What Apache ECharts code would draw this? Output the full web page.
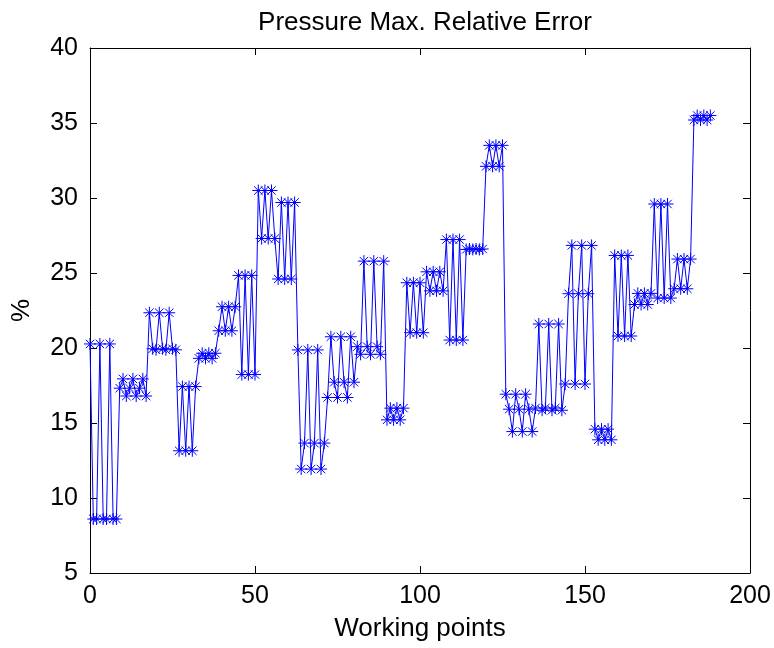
<!DOCTYPE html>
<html>
<head>
<meta charset="utf-8">
<script src="https://cdn.jsdelivr.net/npm/echarts@6/dist/echarts.min.js"></script>
<style>
html,body{margin:0;padding:0;background:#fff;}
#chart{width:774px;height:648px;}
</style>
</head>
<body>
<div id="chart"></div>
<script>
// Relative error (%) for each working point (index 0..188)
const relError = [
  20.27, 8.6, 8.6, 20.27, 8.6, 8.6, 20.27, 8.6, 8.6,
  17.32, 17.94, 16.8, 17.32, 17.94, 16.8, 17.32, 17.94, 16.8,
  22.35, 19.95, 19.88, 22.35, 19.95, 19.88, 22.35, 19.95, 19.88,
  13.15, 17.43, 13.15, 17.43, 13.15, 17.43,
  19.31, 19.65, 19.31, 19.65, 19.31, 19.65,
  21.15, 22.75, 21.15, 22.75, 21.15, 22.75,
  24.84, 18.23, 24.84, 18.23, 24.84, 18.23,
  30.5, 27.3, 30.5, 27.3, 30.5, 27.3,
  24.6, 29.7, 24.6, 29.7, 24.6, 29.7,
  19.87, 11.93, 13.66, 19.87, 11.93, 13.66, 19.87, 11.93, 13.66,
  16.7, 20.75, 17.72, 16.7, 20.75, 17.72, 16.7, 20.75, 17.72,
  20.09, 19.58, 25.79, 20.09, 19.58, 25.79, 20.09, 19.58, 25.79,
  15.21, 15.99, 15.21, 15.99, 15.21, 15.99,
  24.35, 21.02, 24.35, 21.02, 24.35, 21.02,
  25.08, 23.81, 25.08, 23.81, 25.08, 23.81,
  27.23, 20.53, 27.23, 20.53, 27.23, 20.53,
  26.57, 26.6, 26.57, 26.6, 26.57, 26.6,
  32.11, 33.51, 32.11, 33.51, 32.11, 33.51,
  16.92, 15.92, 14.43, 16.92, 15.92, 14.43, 16.92, 15.92, 14.43,
  16.0, 21.6, 15.85, 16.0, 21.6, 15.85, 16.0, 21.6, 15.85,
  17.6, 23.62, 26.84, 17.6, 23.62, 26.84, 17.6, 23.62, 26.84,
  14.59, 13.88, 14.59, 13.88, 14.59, 13.88,
  26.17, 20.8, 26.17, 20.8, 26.17, 20.8,
  22.9, 23.64, 22.9, 23.64, 22.9, 23.64,
  29.6, 23.33, 29.6, 23.33, 29.6, 23.33,
  23.95, 25.93, 23.95, 25.93, 23.95, 25.93,
  35.2, 35.5, 35.2, 35.5, 35.2, 35.5
];
const xRange = [0, 200];
const xStep = 50;
const yRange = [5, 40];
const yStep = 5;

const points = relError.map((v, i) => [i, v]);
const FONT = 'Liberation Sans, Arial, sans-serif';
const FS_TEXT = 26;
const FS_TICK = 25;

const tickCommon = {show: true, inside: true, length: 7, lineStyle: {color: '#000', width: 1}};
const lineCommon = {show: true, onZero: false, lineStyle: {color: '#000', width: 1}};

const chart = echarts.init(document.getElementById('chart'), null, {renderer: 'canvas'});
chart.setOption({
  animation: false,
  backgroundColor: '#fff',
  title: {
    text: 'Pressure Max. Relative Error',
    left: 420, top: 5, textAlign: 'center',
    textStyle: {fontFamily: FONT, fontSize: FS_TEXT, fontWeight: 'normal', color: '#000'}
  },
  grid: {left: 90, right: 24, top: 48, bottom: 75, containLabel: false},
  xAxis: [
    {
      type: 'value', min: xRange[0], max: xRange[1], interval: xStep, position: 'bottom',
      axisLine: lineCommon, axisTick: tickCommon, splitLine: {show: false},
      axisLabel: {color: '#000', fontFamily: FONT, fontSize: FS_TICK, margin: 11},
      name: 'Working points', nameLocation: 'middle', nameGap: 43,
      nameTextStyle: {color: '#000', fontFamily: FONT, fontSize: FS_TEXT}
    },
    {
      type: 'value', min: xRange[0], max: xRange[1], interval: xStep, position: 'top',
      axisLine: lineCommon, axisTick: tickCommon, splitLine: {show: false},
      axisLabel: {show: false}
    }
  ],
  yAxis: [
    {
      type: 'value', min: yRange[0], max: yRange[1], interval: yStep, position: 'left',
      axisLine: lineCommon, axisTick: tickCommon, splitLine: {show: false},
      axisLabel: {color: '#000', fontFamily: FONT, fontSize: FS_TICK, margin: 12},
      name: '%', nameLocation: 'middle', nameGap: 55, nameRotate: 90,
      nameTextStyle: {color: '#000', fontFamily: FONT, fontSize: FS_TEXT}
    },
    {
      type: 'value', min: yRange[0], max: yRange[1], interval: yStep, position: 'right',
      axisLine: lineCommon, axisTick: tickCommon, splitLine: {show: false},
      axisLabel: {show: false}
    }
  ],
  series: [{
    type: 'line',
    data: points,
    xAxisIndex: 0, yAxisIndex: 0,
    showAllSymbol: true,
    symbol: 'path://M10,0L10,20M0,10L20,10M3,3L17,17M3,17L17,3',
    symbolSize: 12,
    lineStyle: {color: '#0000ff', width: 1},
    itemStyle: {color: 'rgba(0,0,0,0)', borderColor: '#0000ff', borderWidth: 1},
    emphasis: {disabled: true}
  }]
});
</script>
</body>
</html>
